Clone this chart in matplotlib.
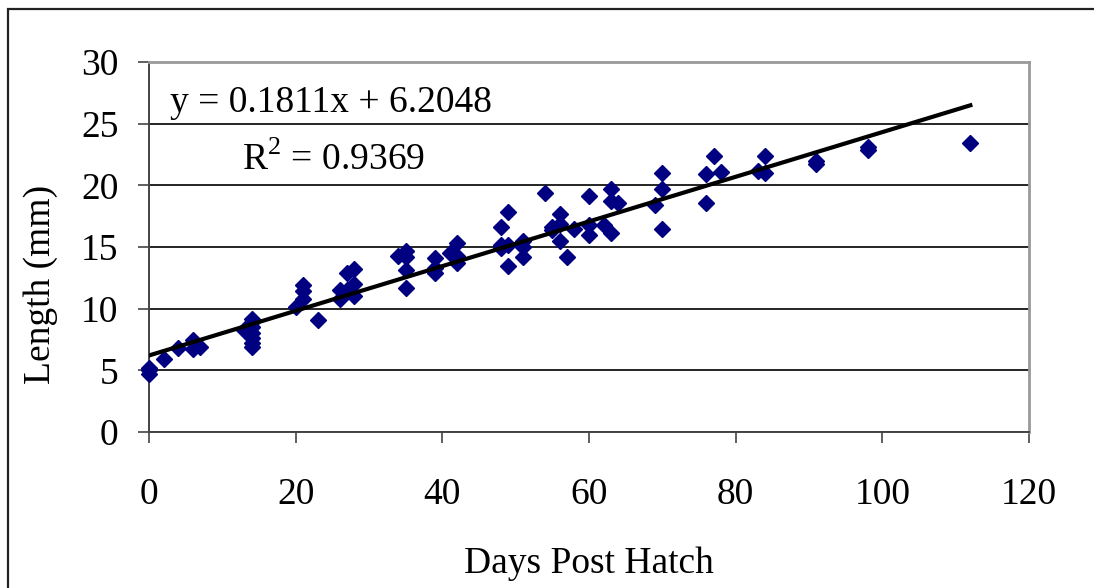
import numpy as np
import matplotlib
matplotlib.use("Agg")
import matplotlib.pyplot as plt
from matplotlib.patches import Rectangle

# Larval length vs. age (days post hatch)
days = [0, 0, 0, 2, 4, 6, 6, 7,
        13, 14, 14, 14, 14, 14, 14, 14,
        20, 21, 21, 21, 23, 26, 26, 27, 27, 28, 28, 28,
        34, 35, 35, 35, 35, 39, 39, 39, 41, 42, 42, 42,
        48, 48, 48, 49, 49, 49, 51, 51, 51,
        54, 55, 55, 56, 56, 56, 57, 58,
        60, 60, 60, 62, 63, 63, 63, 64,
        69, 70, 70, 70, 76, 76, 77, 78,
        83, 84, 84, 91, 91, 98, 98, 112]
length_mm = [5.2, 5.0, 4.7, 5.9, 6.8, 7.5, 6.7, 6.9,
             8.3, 9.2, 8.9, 8.5, 8.0, 7.6, 7.2, 6.9,
             10.1, 11.9, 11.4, 10.8, 9.1, 11.5, 10.8, 12.9, 11.5, 13.2, 12.0, 11.0,
             14.3, 14.7, 14.2, 13.1, 11.7, 14.1, 13.3, 12.9, 14.5, 15.3, 14.3, 13.7,
             16.6, 15.2, 14.9, 17.8, 15.2, 13.5, 15.5, 15.0, 14.2,
             19.4, 16.6, 16.4, 17.7, 16.9, 15.5, 14.2, 16.5,
             19.1, 16.8, 16.0, 16.8, 19.7, 18.7, 16.1, 18.6,
             18.4, 21.0, 19.7, 16.5, 20.9, 18.6, 22.4, 21.1,
             21.2, 22.4, 21.0, 22.0, 21.7, 23.1, 22.9, 23.4]

slope = 0.1811
intercept = 6.2048
r_squared = 0.9369

plt.rcParams['font.family'] = ['Liberation Serif', 'DejaVu Serif']
plt.rcParams['font.size'] = 27
plt.rcParams['mathtext.fontset'] = 'custom'
plt.rcParams['mathtext.rm'] = 'Liberation Serif'

fig = plt.figure(figsize=(10.94, 5.88), dpi=100)
ax = fig.add_axes([149 / 1094, 1 - 432 / 588, 880 / 1094, 370 / 588])

# chart frame around the whole figure
fig.patches.append(Rectangle((8 / 1094, -0.1), 1.2, 1 - 9 / 588 + 0.1,
                             transform=fig.transFigure, fill=False,
                             edgecolor='#222222', linewidth=1.6, zorder=0))

ax.set_xlim(0, 120)
ax.set_ylim(0, 30)
ax.set_xticks(np.arange(0, 121, 20))
ax.set_yticks(np.arange(0, 31, 5))
ax.yaxis.grid(True, color='black', linewidth=1.2)
ax.set_axisbelow(True)

for side in ['top', 'right']:
    ax.spines[side].set_color('#999999')
    ax.spines[side].set_linewidth(2)
for side in ['left', 'bottom']:
    ax.spines[side].set_color('#444444')
    ax.spines[side].set_linewidth(1.4)
ax.tick_params(axis='both', direction='out', length=8, width=1.2, color='#444444')
ax.tick_params(axis='x', pad=25)
ax.tick_params(axis='y', pad=14)

ax.plot(days, length_mm, linestyle='none', marker='D', markersize=8.5,
        color='#000080', zorder=3, clip_on=False)

fit_x = np.array([0, max(days)])
ax.plot(fit_x, slope * fit_x + intercept, color='black', linewidth=3, zorder=4)

fig.text(170 / 1094, 1 - 112 / 588, f'y = {slope}x + {intercept}',
         ha='left', va='baseline')
fig.text(242 / 1094, 1 - 170 / 588, r'R$^{\mathrm{2}}$' + f' = {r_squared}',
         ha='left', va='baseline')

ax.set_xlabel('Days Post Hatch')
ax.set_ylabel('Length (mm)')
ax.xaxis.label.set_va('baseline')
ax.yaxis.label.set_va('baseline')
ax.xaxis.set_label_coords(0.5, -(573 - 432) / 370)
ax.yaxis.set_label_coords(-(149 - 50) / 880, (432 - 284) / 370)

fig.savefig('out.png', dpi=100)
